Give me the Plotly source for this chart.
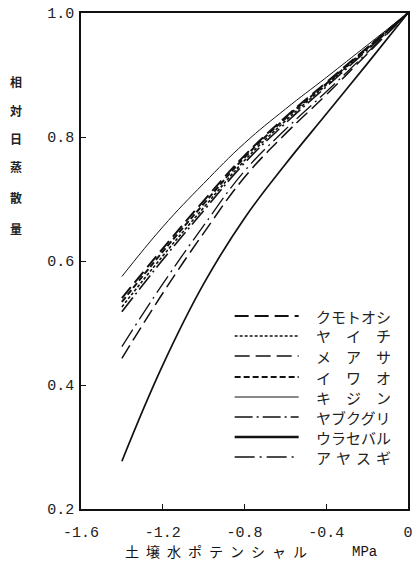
import plotly.graph_objects as go

# Soil water potential (MPa)
potential = [-1.4, -1.2, -1.0, -0.8, -0.6, -0.4, -0.2, 0.0]

# Relative daily transpiration for each cultivar
kumotooshi = [0.540, 0.620, 0.697, 0.770, 0.832, 0.888, 0.944, 1.0]
yaichi = [0.526, 0.608, 0.686, 0.762, 0.826, 0.884, 0.942, 1.0]
measa = [0.443, 0.548, 0.645, 0.735, 0.805, 0.868, 0.934, 1.0]
iwao = [0.534, 0.615, 0.692, 0.767, 0.830, 0.886, 0.943, 1.0]
kijin = [0.575, 0.655, 0.725, 0.790, 0.845, 0.896, 0.948, 1.0]
yabukuguri = [0.518, 0.602, 0.681, 0.758, 0.822, 0.881, 0.940, 1.0]
urasebaru = [0.277, 0.432, 0.563, 0.669, 0.756, 0.837, 0.918, 1.0]
ayasugi = [0.462, 0.563, 0.657, 0.745, 0.812, 0.873, 0.936, 1.0]

names = ["クモトオシ", "ヤ　イ　チ", "メ　ア　サ", "イ　ワ　オ",
         "キ　ジ　ン", "ヤブクグリ", "ウラセバル", "ア\u2004ヤ\u2004ス\u2004ギ"]
series = [kumotooshi, yaichi, measa, iwao, kijin, yabukuguri, urasebaru, ayasugi]
styles = [
    dict(width=2.2, dash="14px,6px"),
    dict(width=1.6, dash="3px,2px"),
    dict(width=1.5, dash="15px,6px"),
    dict(width=2.0, dash="6px,3px"),
    dict(width=1.0, dash="solid"),
    dict(width=1.6, dash="18px,4px,2px,4px"),
    dict(width=2.4, dash="solid"),
    dict(width=1.3, dash="20px,5px,2px,5px"),
]
curve_width = [2.0, 1.6, 1.5, 2.0, 1.0, 1.6, 1.7, 1.3]

x_ticks = [-1.6, -1.2, -0.8, -0.4, 0.0]
x_tick_text = ["-1.6", "-1.2", "-0.8", "-0.4", "0"]
y_ticks = [0.2, 0.4, 0.6, 0.8, 1.0]
y_tick_text = ["0.2", "0.4", "0.6", "0.8", "1.0"]

ink = "#111111"
W, H = 417, 570
L, R, T, B = 81, 4, 13, 61
plot_w, plot_h = W - L - R, H - T - B


def px(xp):
    return (xp - L) / plot_w


def py(yp):
    return (H - B - yp) / plot_h


fig = go.Figure()
for name, ys, st, cw in zip(names, series, styles, curve_width):
    fig.add_trace(go.Scatter(
        x=potential, y=ys, mode="lines", name=name,
        line=dict(color=ink, width=cw, dash=st["dash"], shape="spline", smoothing=1.2),
        showlegend=False,
    ))

shapes = []
annotations = []

# Key: line samples with labels inside the plot
row_y = [316, 336, 356, 377, 397, 417, 437, 457]
for name, st, yp in zip(names, styles, row_y):
    shapes.append(dict(type="line", xref="paper", yref="paper",
                       x0=px(237), x1=px(302), y0=py(yp), y1=py(yp),
                       line=dict(color=ink, width=st["width"], dash=st["dash"])))
    annotations.append(dict(text=name, xref="paper", yref="paper",
                            x=px(318), y=py(yp), xanchor="left", yanchor="middle",
                            showarrow=False,
                            font=dict(family="Noto Sans CJK JP", size=15, color="#222")))

# Vertical y-axis title
for ch, yp in zip("相対日蒸散量", [81, 110, 138, 167, 197, 228]):
    annotations.append(dict(text="<b>" + ch + "</b>", xref="paper", yref="paper",
                            x=px(15), y=py(yp), xanchor="center", yanchor="middle",
                            showarrow=False,
                            font=dict(family="Noto Sans CJK JP", size=12, color="#222")))

# x-axis title and unit
annotations.append(dict(text="土\u2002壌\u2002水\u2002ポ\u2002テ\u2002ン\u2002シ\u2002ャ\u2002ル",
                        xref="paper", yref="paper", x=px(218), y=py(551),
                        xanchor="center", yanchor="middle", showarrow=False,
                        font=dict(family="Noto Sans CJK JP", size=14, color="#111")))
annotations.append(dict(text="MPa", xref="paper", yref="paper", x=px(369), y=py(552),
                        xanchor="center", yanchor="middle", showarrow=False,
                        font=dict(family="Liberation Mono", size=14, color="#111")))

axis_common = dict(showgrid=False, zeroline=False, showline=True, linecolor=ink,
                   linewidth=1.5, mirror=True, ticks="inside", ticklen=5,
                   tickwidth=1.3, tickcolor=ink,
                   tickfont=dict(family="Liberation Mono", size=15, color="#222"))

fig.update_layout(
    width=W, height=H,
    margin=dict(l=L, r=R, t=T, b=B),
    paper_bgcolor="white", plot_bgcolor="white",
    xaxis=dict(range=[-1.6, 0.0], tickvals=x_ticks, ticktext=x_tick_text,
               ticklabelstandoff=8, **axis_common),
    yaxis=dict(range=[0.2, 1.0], tickvals=y_ticks, ticktext=y_tick_text,
               ticklabelstandoff=2, **axis_common),
    shapes=shapes,
    annotations=annotations,
)

fig.write_html("out.html")
